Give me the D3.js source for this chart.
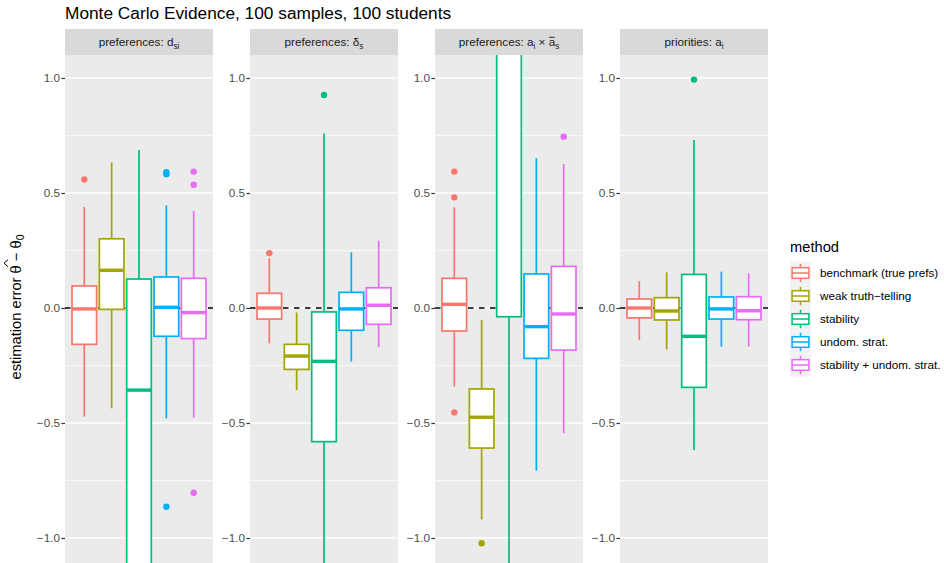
<!DOCTYPE html>
<html lang="en">
<head>
  <meta charset="UTF-8" />
  <title>Monte Carlo Evidence</title>
  <script src="https://cdn.jsdelivr.net/npm/d3@7"></script>
  <style>
    body {
      margin: 0;
      background: #fff;
    }
    svg text {
      font-family: "Liberation Sans", Arial, sans-serif;
    }
  </style>
</head>
<body>
  <div id="chart"></div>

  <script>
    // facet strip labels, as [text, style] pieces
    const facetLabels = [
      [["preferences: d", ""], ["si", "sub"]],
      [["preferences: δ", ""], ["s", "sub"]],
      [["preferences: a", ""], ["i", "sub"], [" × ", ""], ["a", "over"], ["s", "sub"]],
      [["priorities: a", ""], ["i", "sub"]]
    ];

    const methods = ["benchmark (true prefs)", "weak truth−telling", "stability", "undom. strat.", "stability + undom. strat."];
    const colors = ["#F8766D", "#A3A500", "#00BF7D", "#00B0F6", "#E76BF3"];

    const yTicks = [-1.0, -0.5, 0.0, 0.5, 1.0];
    const yMinor = [-0.75, -0.25, 0.25, 0.75];

    // box stats, one row per facet, one column per method
    const whiskerLo = [
      [-0.472, -0.436, -2.5, -0.480, -0.477],
      [-0.154, -0.357, -1.6, -0.233, -0.171],
      [-0.342, -0.919, -2.0, -0.707, -0.545],
      [-0.139, -0.180, -0.617, -0.168, -0.168]
    ];
    const q1 = [
      [-0.158, -0.006, -1.35, -0.123, -0.133],
      [-0.048, -0.267, -0.581, -0.097, -0.071],
      [-0.100, -0.609, -0.038, -0.219, -0.183],
      [-0.043, -0.052, -0.345, -0.048, -0.051]
    ];
    const median = [
      [-0.004, 0.164, -0.357, 0.003, -0.020],
      [0.000, -0.209, -0.232, -0.004, 0.012],
      [0.016, -0.475, 1.30, -0.081, -0.026],
      [0.000, -0.013, -0.123, -0.004, -0.012]
    ];
    const q3 = [
      [0.096, 0.301, 0.126, 0.135, 0.129],
      [0.064, -0.158, -0.017, 0.068, 0.088],
      [0.129, -0.352, 1.90, 0.148, 0.181],
      [0.039, 0.045, 0.146, 0.048, 0.049]
    ];
    const whiskerHi = [
      [0.439, 0.633, 0.687, 0.446, 0.422],
      [0.216, -0.019, 0.759, 0.242, 0.293],
      [0.438, -0.052, 2.8, 0.651, 0.626],
      [0.117, 0.155, 0.730, 0.158, 0.151]
    ];
    // [facet, method, value]
    const outliers = [
      [0, 0, 0.559], [0, 3, 0.590], [0, 3, 0.582], [0, 3, -0.864],
      [0, 4, 0.593], [0, 4, 0.536], [0, 4, -0.803],
      [1, 0, 0.238], [1, 2, 0.926],
      [2, 0, 0.593], [2, 0, 0.481], [2, 0, -0.454], [2, 1, -1.023], [2, 4, 0.745],
      [3, 2, 0.993]
    ];

    const width = 944;
    const height = 563;
    const panelTop = 55;
    const panelBottom = 563;

    const svg = d3.select("#chart")
      .append("svg")
      .attr("width", width)
      .attr("height", height);

    const fx = d3.scaleBand()
      .domain(d3.range(facetLabels.length))
      .range([65, 768])
      .paddingInner(0.2);

    const y = d3.scaleLinear()
      .domain([-1.1, 1.1])
      .range([561, 55]);

    const x = d3.scaleBand()
      .domain(methods)
      .range([7, 141])
      .paddingInner(0.1);

    const color = d3.scaleOrdinal().domain(methods).range(colors);

    // title
    svg.append("text")
      .attr("x", 65)
      .attr("y", 19)
      .attr("font-size", 17.3)
      .attr("fill", "#000")
      .text("Monte Carlo Evidence, 100 samples, 100 students");

    // y axis title, with a hand-drawn hat over the first theta
    const ytg = svg.append("g").attr("transform", "translate(21,307) rotate(-90)");
    const yt = ytg.append("text")
      .attr("text-anchor", "middle")
      .attr("font-size", 14.7)
      .attr("fill", "#000");
    const main = "estimation error  θ − θ";
    yt.append("tspan").text(main);
    yt.append("tspan").attr("font-size", 10.5).attr("dy", 3).text("0");
    const ext = yt.node().getExtentOfChar(main.indexOf("θ"));
    const hx = ext.x + ext.width / 2;
    const htop = ext.y + 1;
    ytg.append("path")
      .attr("d", `M${hx - 3.5},${htop - 1} L${hx},${htop - 5} L${hx + 3.5},${htop - 1}`)
      .attr("fill", "none")
      .attr("stroke", "#000")
      .attr("stroke-width", 1);

    facetLabels.forEach((label, f) => {
      const px = fx(f);
      const pw = fx.bandwidth();
      const g = svg.append("g").attr("transform", `translate(${px},0)`);

      g.append("clipPath").attr("id", "clip" + f)
        .append("rect")
        .attr("x", 0).attr("y", panelTop)
        .attr("width", pw).attr("height", panelBottom - panelTop);

      // strip
      g.append("rect")
        .attr("x", 0).attr("y", 29)
        .attr("width", pw).attr("height", panelTop - 29)
        .attr("fill", "#D9D9D9");
      const st = g.append("text")
        .attr("x", pw / 2).attr("y", 46)
        .attr("text-anchor", "middle")
        .attr("font-size", 11.7)
        .attr("fill", "#1A1A1A");
      let prevSub = false;
      let charPos = 0;
      const overChars = [];
      label.forEach(([txt, kind]) => {
        const t = st.append("tspan").text(txt);
        if (kind === "sub") {
          t.attr("font-size", 8.2).attr("dy", 2.5);
          prevSub = true;
        } else {
          if (prevSub) t.attr("dy", -2.5);
          prevSub = false;
          if (kind === "over") overChars.push(charPos);
        }
        charPos += txt.length;
      });
      overChars.forEach(ci => {
        const e = st.node().getExtentOfChar(ci);
        g.append("line")
          .attr("x1", e.x + 0.5).attr("x2", e.x + e.width - 0.5)
          .attr("y1", 37.3).attr("y2", 37.3)
          .attr("stroke", "#1A1A1A").attr("stroke-width", 0.9);
      });

      // panel background + grid
      g.append("rect")
        .attr("x", 0).attr("y", panelTop)
        .attr("width", pw).attr("height", panelBottom - panelTop)
        .attr("fill", "#EBEBEB");

      g.selectAll(".minor").data(yMinor).join("line")
        .attr("x1", 0).attr("x2", pw)
        .attr("y1", d => y(d)).attr("y2", d => y(d))
        .attr("stroke", "#fff").attr("stroke-width", 0.75);
      g.selectAll(".major").data(yTicks).join("line")
        .attr("x1", 0).attr("x2", pw)
        .attr("y1", d => y(d)).attr("y2", d => y(d))
        .attr("stroke", "#fff").attr("stroke-width", 1.5);

      // y axis
      const ax = g.append("g")
        .call(d3.axisLeft(y).tickValues(yTicks).tickSize(3.6).tickPadding(1.5)
          .tickFormat(d => d3.format(".1f")(d).replace("-", "−")));
      ax.select(".domain").remove();
      ax.selectAll(".tick line").attr("stroke", "#333333").attr("stroke-width", 1.2);
      ax.selectAll(".tick text")
        .attr("fill", "#4D4D4D")
        .attr("font-size", 11.7)
        .style("font-family", "'Liberation Sans', Arial, sans-serif");

      const body = g.append("g").attr("clip-path", `url(#clip${f})`);

      // reference line at zero
      body.append("line")
        .attr("x1", 0).attr("x2", pw)
        .attr("y1", y(0)).attr("y2", y(0))
        .attr("stroke", "#000")
        .attr("stroke-width", 1.3)
        .attr("stroke-dasharray", "5.5,5.5");

      const boxes = methods.map((m, i) => ({
        m, lo: whiskerLo[f][i], q1: q1[f][i], med: median[f][i], q3: q3[f][i], hi: whiskerHi[f][i]
      }));

      const bw = x.bandwidth();
      const bg = body.selectAll(".box").data(boxes).join("g")
        .attr("transform", d => `translate(${x(d.m)},0)`);

      bg.append("line")
        .attr("x1", bw / 2).attr("x2", bw / 2)
        .attr("y1", d => y(d.q3)).attr("y2", d => y(d.hi))
        .attr("stroke", d => color(d.m)).attr("stroke-width", 1.7);
      bg.append("line")
        .attr("x1", bw / 2).attr("x2", bw / 2)
        .attr("y1", d => y(d.q1)).attr("y2", d => y(d.lo))
        .attr("stroke", d => color(d.m)).attr("stroke-width", 1.7);
      bg.append("rect")
        .attr("x", 0).attr("width", bw)
        .attr("y", d => y(d.q3))
        .attr("height", d => y(d.q1) - y(d.q3))
        .attr("fill", "#fff")
        .attr("stroke", d => color(d.m)).attr("stroke-width", 1.7);
      bg.append("line")
        .attr("x1", 0).attr("x2", bw)
        .attr("y1", d => y(d.med)).attr("y2", d => y(d.med))
        .attr("stroke", d => color(d.m)).attr("stroke-width", 3.4);

      body.selectAll(".out").data(outliers.filter(o => o[0] === f)).join("circle")
        .attr("cx", d => x(methods[d[1]]) + bw / 2)
        .attr("cy", d => y(d[2]))
        .attr("r", 3.2)
        .attr("fill", d => colors[d[1]]);
    });

    // legend
    const lg = svg.append("g").attr("transform", "translate(790,0)");
    lg.append("text")
      .attr("x", 0).attr("y", 252)
      .attr("font-size", 14.7)
      .attr("fill", "#000")
      .text("method");

    const kw = 21, kh = 23, ky0 = 261.5;
    const keys = lg.selectAll(".key").data(methods).join("g")
      .attr("transform", (d, i) => `translate(0,${ky0 + i * kh})`);
    keys.append("rect")
      .attr("width", kw).attr("height", kh)
      .attr("fill", "#F2F2F2");
    keys.append("line")
      .attr("x1", kw / 2).attr("x2", kw / 2)
      .attr("y1", kh * 0.1).attr("y2", kh * 0.9)
      .attr("stroke", d => color(d)).attr("stroke-width", 1.5);
    keys.append("rect")
      .attr("x", kw * 0.1).attr("width", kw * 0.8)
      .attr("y", kh * 0.27).attr("height", kh * 0.46)
      .attr("fill", "#fff")
      .attr("stroke", d => color(d)).attr("stroke-width", 1.5);
    keys.append("line")
      .attr("x1", kw * 0.1).attr("x2", kw * 0.9)
      .attr("y1", kh / 2).attr("y2", kh / 2)
      .attr("stroke", d => color(d)).attr("stroke-width", 1.5);
    keys.append("text")
      .attr("x", 30).attr("y", kh / 2 + 4)
      .attr("font-size", 11.7)
      .attr("fill", "#000")
      .text(d => d);
  </script>
</body>
</html>
